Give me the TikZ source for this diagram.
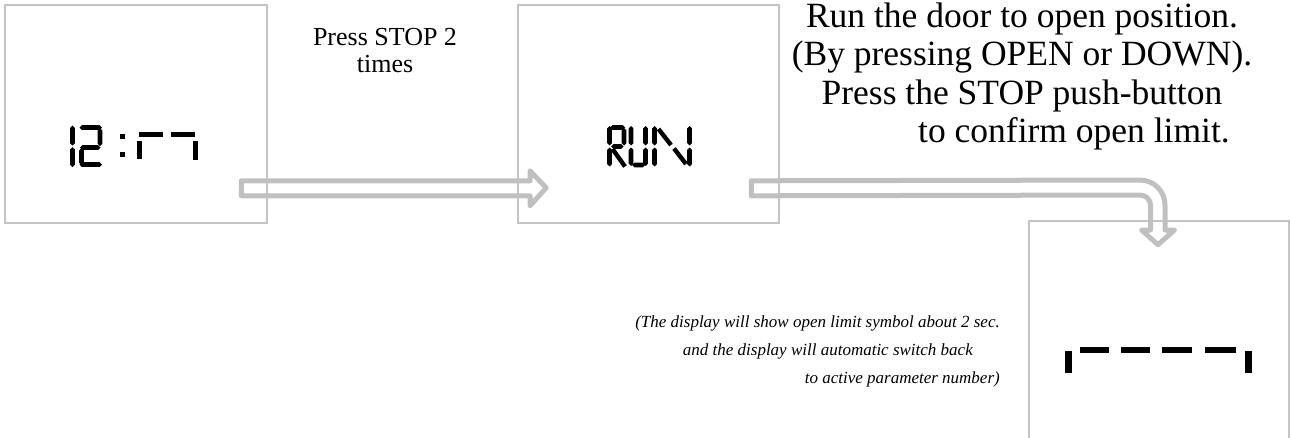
\documentclass[tikz,border=0pt]{standalone}
\usepackage{fontspec}
\setmainfont{Liberation Serif}
\usetikzlibrary{calc}
\definecolor{boxgray}{RGB}{196,196,196}
\definecolor{arrgray}{RGB}{192,192,192}
% LCD segments (pointed ends), thickness 4.6
\newcommand\lcdh[3]{\fill (#1,#3) -- ($(#1,#3)+(2.3,-2.3)$) -- ($(#2,#3)+(-2.3,-2.3)$) -- (#2,#3) -- ($(#2,#3)+(-2.3,2.3)$) -- ($(#1,#3)+(2.3,2.3)$) -- cycle;}
\newcommand\lcdv[3]{\fill (#1,#2) -- ($(#1,#2)+(2.3,2.3)$) -- ($(#1,#3)+(2.3,-2.3)$) -- (#1,#3) -- ($(#1,#3)+(-2.3,-2.3)$) -- ($(#1,#2)+(-2.3,2.3)$) -- cycle;}
\newcommand\lcdd[4]{\draw[line width=4.4pt, line cap=butt] (#1,#2) -- (#3,#4);}
\begin{document}
\begin{tikzpicture}[x=1pt,y=-1pt,
  box/.style={draw=boxgray, line width=1.6pt, inner sep=0pt},
  hollow/.style={draw=arrgray, line width=5pt, line join=round},
  lbl/.style={font=\fontsize{26}{27}\selectfont, inner sep=0pt, anchor=base},
  big/.style={font=\fontsize{35.5}{38.5}\selectfont, inner sep=0pt, anchor=base},
  note/.style={font=\fontsize{17}{28}\selectfont\itshape, inner sep=0pt, anchor=base east},
]
\useasboundingbox (0,0) rectangle (1291,437);
\clip (0,0) rectangle (1291,437);

% boxes
\node[box, minimum width=262pt, minimum height=218pt] (b1) at (136,114) {};
\node[box, minimum width=261pt, minimum height=218pt] (b2) at (648.5,114) {};
\node[box, minimum width=260pt, minimum height=230pt] (b3) at (1159,336) {};

% display 1: 12:77
\lcdv{72.5}{125.5}{145.5}
\lcdv{72.5}{147}{167}
\lcdh{79.5}{102}{127.5}
\lcdv{100}{128}{146}
\lcdh{80}{100.5}{147.5}
\lcdv{81.5}{148}{165}
\lcdh{79.5}{102}{164.5}
\fill (120,134) rectangle (124.5,138.5);
\fill (120,152) rectangle (124.5,156.5);
\fill (139,132) rectangle (163,137);
\fill (137,141) rectangle (142,158.5);
\fill (171,132) rectangle (195,137);
\fill (193,141) rectangle (198.3,159.5);

% display 2: RUN
\lcdv{609.5}{126}{145.5}
\lcdv{609.5}{147.5}{166.5}
\lcdh{610}{625}{127.5}
\lcdv{624}{128}{145.5}
\lcdh{611}{623.5}{146.5}
\lcdd{612.5}{149}{625}{166.5}
\lcdv{631}{126}{145.5}
\lcdv{631}{147.5}{166}
\lcdv{645.5}{126}{145.5}
\lcdv{645.5}{147.5}{166}
\lcdh{632}{645}{165}
\lcdv{654.5}{126}{145.5}
\lcdv{654.5}{147.5}{166.5}
\lcdd{658.5}{129}{671}{145}
\lcdd{674}{148.5}{686}{164}
\lcdv{689.5}{126}{145.5}
\lcdv{689.5}{147.5}{166.5}

% display 3: open limit symbol
\fill (1065,351) rectangle (1072,373);
\fill (1080,346.5) rectangle (1109,353);
\fill (1121,346.5) rectangle (1150,353);
\fill (1162,346.5) rectangle (1192,353);
\fill (1205,346.5) rectangle (1236,353);
\fill (1245,351) rectangle (1252,373);

% hollow arrow b1 -> b2
\coordinate (a1s) at ($(b1.south east)+(-26.5,-43)$);
\coordinate (a1t) at ($(b2.south west)+(29,-36)$);
\draw[hollow] (a1s) -- (a1s -| 530,0) -- ++(0,-10) -- (a1t) -- ($(a1s -| 530,0)+(0,25)$) -- ++(0,-10) -- ($(a1s)+(0,15)$) -- cycle;

% hollow arrow b2 -> b3
\coordinate (a2s) at ($(b2.south east)+(-28.5,-43)$);
\coordinate (a2t) at ($(b3.north)+(-1,24.5)$);
\draw[hollow] (a2s) -- (1140,180) .. controls (1153.8,180) and (1165,191.2) .. (1165,205)
  -- (1165,230) -- (1174.5,230) -- (a2t) -- (1141.5,230) -- (1150.5,230) -- (1150.5,205)
  .. controls (1150.5,199.5) and (1145.5,195) .. (1140,195) -- ($(a2s)+(0,15)$) -- cycle;

% texts
\node[lbl] (t1a) at (385,45) {Press STOP 2};
\node[lbl] (t1b) at (385,72) {times};
\node[big] (t2a) at (1022,27) {Run the door to open position.};
\node[big] (t2b) at (1022,65.5) {(By pressing OPEN or DOWN).};
\node[big] (t2c) at (1022,104) {Press the STOP push-button};
\node[big, anchor=base west] (t2d) at (918,142.5) {to confirm open limit.};
\node[note] (n1) at (1000,327) {(The display will show open limit symbol about 2 sec.};
\node[note] (n2) at (973,355) {and the display will automatic switch back};
\node[note] (n3) at (1000,383) {to active parameter number)};
\end{tikzpicture}
\end{document}
